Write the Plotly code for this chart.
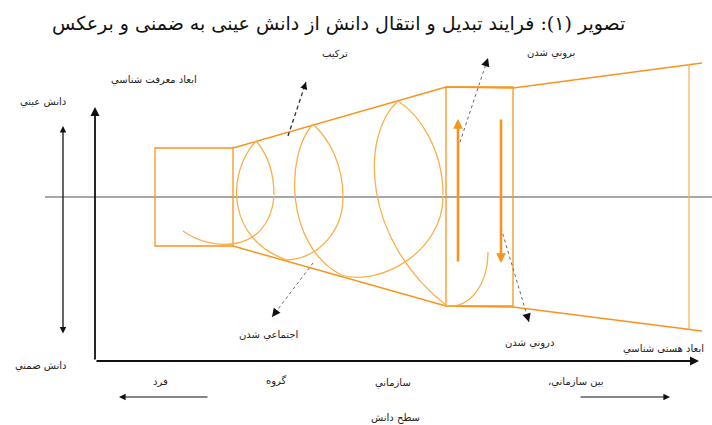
import plotly.graph_objects as go

W, H = 712, 425

# ---- text ----
TITLE = "تصویر (۱): فرایند تبدیل و انتقال دانش از دانش عینی به ضمنی و برعکس"
LABELS = ["ترکیب", "بروني شدن", "ابعاد معرفت شناسي", "دانش عيني", "دانش ضمني",
          "اجتماعي شدن", "دروني شدن", "ابعاد هستی شناسي", "فرد", "گروه",
          "سازماني", "\u200fبين سازماني،\u200f", "سطح دانش"]
LABEL_X = [335, 551, 154, 43, 41, 268, 529, 663, 160, 276, 393, 576, 395]
LABEL_Y = [53, 53, 80, 102, 366, 335, 343, 349, 381, 381, 383, 382, 418]

# ---- diagram geometry (pixel coordinates of the reference) ----
BOX_X = [155, 233]; BOX_Y = [148, 246]
RECT_X = [446, 513]; RECT_Y = [87, 306]
UPPER_X = [233, 446, 513, 702]; UPPER_Y = [148, 87, 88, 63]
LOWER_X = [233, 446, 513, 702]; LOWER_Y = [246, 306, 307, 331]
RIGHT_EDGE_X = [689, 689]; RIGHT_EDGE_Y = [64, 329]
MID_LINE_X = [45, 712]; MID_LINE_Y = [197, 197]

# cubic curves: (x0,y0, x1,y1, x2,y2, x3,y3)
CURVES = [
    (183, 231, 210, 251, 268, 255, 274, 197),
    (274, 195, 274, 172, 268, 155, 256, 141),
    (256, 141, 225, 175, 228, 240, 287, 260),
    (287, 260, 320, 258, 343, 230, 343, 197),
    (343, 197, 343, 165, 330, 140, 313, 124),
    (313, 124, 285, 155, 285, 245, 341, 275),
    (341, 275, 382, 287, 443, 250, 443, 197),
    (443, 195, 443, 150, 420, 115, 398, 101),
    (398, 101, 360, 135, 362, 240, 447, 306),
    (447, 306, 470, 308, 488, 285, 488, 252),
]

# arrows: (tail_x, tail_y, tip_x, tip_y, style)
ARROWS = [
    (95, 361, 699, 361, "axis"),
    (95, 361, 95, 107, "axis"),
    (209, 397, 119, 397, "thin"),
    (579, 397, 670, 397, "thin"),
    (288, 136, 306, 82, "dash"),
    (458, 148, 488, 58, "dot"),
    (501, 228, 529, 322, "dot"),
    (313, 263, 272, 317, "dot"),
    (458, 263, 458, 119, "orange"),
    (501, 118, 501, 263, "orange"),
]
DOUBLE_ARROW = (63, 335, 63, 126)

ORANGE = "#F7941D"
ARC = "#F9B04A"

shapes = []
annotations = []

shapes.append(dict(type="rect", x0=BOX_X[0], x1=BOX_X[1], y0=BOX_Y[0], y1=BOX_Y[1],
                   line=dict(color=ORANGE, width=1.3)))
shapes.append(dict(type="rect", x0=RECT_X[0], x1=RECT_X[1], y0=RECT_Y[0], y1=RECT_Y[1],
                   line=dict(color=ORANGE, width=1.3)))
for xs, ys in [(UPPER_X, UPPER_Y), (LOWER_X, LOWER_Y)]:
    p = "M %d,%d " % (xs[0], ys[0]) + " ".join("L %d,%d" % (x, y) for x, y in zip(xs[1:], ys[1:]))
    shapes.append(dict(type="path", path=p, line=dict(color=ORANGE, width=1.5)))
shapes.append(dict(type="line", x0=RIGHT_EDGE_X[0], x1=RIGHT_EDGE_X[1], y0=RIGHT_EDGE_Y[0],
                   y1=RIGHT_EDGE_Y[1], line=dict(color=ARC, width=1.2)))
shapes.append(dict(type="line", x0=MID_LINE_X[0], x1=MID_LINE_X[1], y0=MID_LINE_Y[0],
                   y1=MID_LINE_Y[1], line=dict(color="#8a8a8a", width=1.3), layer="below"))
for c in CURVES:
    p = "M %d,%d C %d,%d %d,%d %d,%d" % c
    shapes.append(dict(type="path", path=p, line=dict(color=ARC, width=1.3)))

STYLE = {
    "axis": dict(color="#111111", width=1.8, dash="solid", head=2, hs=1.0),
    "thin": dict(color="#111111", width=1.2, dash="solid", head=2, hs=1.1),
    "dash": dict(color="#333333", width=1.3, dash="4px,3px", head=2, hs=1.1),
    "dot": dict(color="#666666", width=1.0, dash="dot", head=2, hs=1.3),
    "orange": dict(color=ORANGE, width=2.6, dash="solid", head=2, hs=0.75),
}

for tx, ty, hx, hy, st in ARROWS:
    s = STYLE[st]
    if s["dash"] != "solid":
        shapes.append(dict(type="line", x0=tx, y0=ty, x1=hx, y1=hy,
                           line=dict(color=s["color"], width=s["width"], dash=s["dash"])))
        dx, dy = hx - tx, hy - ty
        L = (dx * dx + dy * dy) ** 0.5
        ax_, ay_ = hx - dx / L * 6, hy - dy / L * 6
        annotations.append(dict(x=hx, y=hy, ax=ax_, ay=ay_, xref="x", yref="y", axref="x", ayref="y",
                                text="", showarrow=True, arrowhead=s["head"], arrowsize=s["hs"],
                                arrowwidth=1.3, arrowcolor="#111111"))
    else:
        annotations.append(dict(x=hx, y=hy, ax=tx, ay=ty, xref="x", yref="y", axref="x", ayref="y",
                                text="", showarrow=True, arrowhead=s["head"], arrowsize=s["hs"],
                                arrowwidth=s["width"], arrowcolor=s["color"]))

tx, ty, hx, hy = DOUBLE_ARROW
annotations.append(dict(x=hx, y=hy, ax=tx, ay=ty, xref="x", yref="y", axref="x", ayref="y",
                        text="", showarrow=True, arrowhead=2, startarrowhead=2, arrowside="end+start",
                        arrowsize=1.0, startarrowsize=1.0, arrowwidth=1.3, arrowcolor="#111111"))

for t, x, y in zip(LABELS, LABEL_X, LABEL_Y):
    annotations.append(dict(x=x, y=y, xref="x", yref="y", text=t, showarrow=False,
                            font=dict(family="DejaVu Sans", size=10, color="#222222"),
                            xanchor="center", yanchor="middle"))

annotations.append(dict(x=338, y=23, xref="x", yref="y", text=TITLE, showarrow=False,
                        font=dict(family="DejaVu Serif, DejaVu Sans", size=19, color="#111111"),
                        xanchor="center", yanchor="middle"))

fig = go.Figure()
fig.add_trace(go.Scatter(x=[0], y=[0], mode="markers", marker=dict(opacity=0), hoverinfo="skip",
                         showlegend=False))
fig.update_layout(
    width=W, height=H, margin=dict(l=0, r=0, t=0, b=0),
    paper_bgcolor="white", plot_bgcolor="white",
    xaxis=dict(range=[0, W], visible=False, fixedrange=True),
    yaxis=dict(range=[H, 0], visible=False, fixedrange=True),
    shapes=shapes, annotations=annotations, showlegend=False,
)
fig.write_html("out.html", config=dict(displayModeBar=False),
               post_script="document.body.style.margin='0';document.body.style.overflow='hidden';")
